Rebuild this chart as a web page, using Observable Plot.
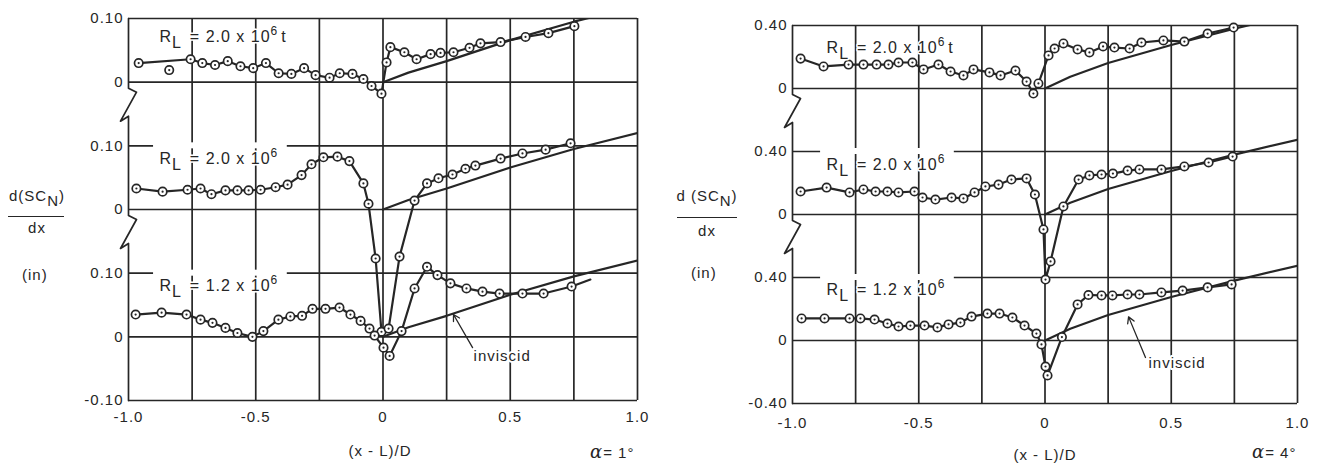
<!DOCTYPE html>
<html><head><meta charset="utf-8">
<script src="https://cdn.jsdelivr.net/npm/d3@7"></script>
<script src="https://cdn.jsdelivr.net/npm/@observablehq/plot@0.6"></script>
<style>
body{margin:0;background:#fff;}
#wrap{position:relative;width:1319px;height:471px;overflow:hidden;font-family:"Liberation Sans",Arial,sans-serif;color:#262626;background:#fff;}
.panel{position:absolute;top:0;}
.t{position:absolute;font-size:15px;letter-spacing:1px;white-space:nowrap;line-height:17px;}
.c{text-align:center;}
.fr{position:absolute;border-top:1.6px solid #262626;height:0;}
.sub{position:relative;top:5px;}
.al{font-family:"DejaVu Serif",serif;font-style:italic;font-size:18px;}
</style></head><body><div id="wrap"></div>
<script>
const ink = "#262626";
const gridX = [-1, -0.75, -0.5, -0.25, 0, 0.25, 0.5, 0.75, 1];
const xTicks = [-1, -0.5, 0, 0.5, 1];
const xTickLabels = ["-1.0", "-0.5", "0", "0.5", "1.0"];
const leftYTickLabels = ["-0.10", "0", "0.10", "0", "0.10", "0", "0.10"];
const rightYTickLabels = ["-0.40", "0", "0.40", "0", "0.40", "0", "0.40"];
const labelSub = ["L", "L", "L"];
const labelMain = ["= 2.0 x 10", "= 2.0 x 10", "= 1.2 x 10"];
const labelSup = ["6", "6", "6"];
const labelTail = ["t", "", ""];
const lTopX = [-0.96, -0.756, -0.71, -0.66, -0.61, -0.56, -0.51, -0.46, -0.41, -0.36, -0.31, -0.265, -0.21, -0.17, -0.12, -0.077, -0.045, -0.006, 0.014, 0.029, 0.084, 0.132, 0.187, 0.226, 0.277, 0.340, 0.383, 0.462, 0.560, 0.650, 0.752];
const lTopV = [0.030, 0.036, 0.030, 0.027, 0.033, 0.025, 0.022, 0.030, 0.014, 0.013, 0.022, 0.011, 0.007, 0.014, 0.013, 0.005, -0.006, -0.018, 0.031, 0.055, 0.047, 0.036, 0.044, 0.046, 0.047, 0.054, 0.061, 0.063, 0.071, 0.077, 0.088];
const lTopStrayX = [-0.84];
const lTopStrayV = [0.019];
const lMidX = [-0.969, -0.866, -0.768, -0.717, -0.674, -0.619, -0.572, -0.528, -0.481, -0.422, -0.375, -0.320, -0.281, -0.234, -0.179, -0.132, -0.077, -0.057, -0.029, -0.006, 0.022, 0.065, 0.124, 0.173, 0.218, 0.273, 0.324, 0.363, 0.462, 0.548, 0.639, 0.737];
const lMidV = [0.033, 0.028, 0.031, 0.033, 0.024, 0.030, 0.030, 0.030, 0.031, 0.035, 0.039, 0.054, 0.071, 0.082, 0.083, 0.076, 0.041, 0.009, -0.077, -0.192, -0.187, -0.074, 0.014, 0.041, 0.049, 0.055, 0.064, 0.069, 0.080, 0.088, 0.094, 0.104];
const lBotX = [-0.972, -0.870, -0.772, -0.717, -0.670, -0.619, -0.572, -0.513, -0.470, -0.411, -0.364, -0.318, -0.277, -0.226, -0.171, -0.128, -0.088, -0.053, -0.033, 0.002, 0.026, 0.073, 0.124, 0.173, 0.214, 0.265, 0.328, 0.391, 0.458, 0.548, 0.631, 0.741];
const lBotV = [0.035, 0.038, 0.035, 0.027, 0.022, 0.014, 0.006, 0.000, 0.009, 0.027, 0.032, 0.033, 0.044, 0.044, 0.046, 0.035, 0.025, 0.013, 0.002, -0.017, -0.030, 0.009, 0.076, 0.110, 0.097, 0.084, 0.076, 0.071, 0.068, 0.068, 0.068, 0.079];
const lBotTailX = [0.741, 0.815];
const lBotTailV = [0.079, 0.090];
const lInvX = [0, 0.1, 0.25, 0.5, 0.75, 1.0];
const lInvV = [0, 0.015, 0.033, 0.066, 0.095, 0.120];
const rTopX = [-0.968, -0.877, -0.778, -0.719, -0.667, -0.620, -0.580, -0.525, -0.481, -0.422, -0.374, -0.323, -0.283, -0.220, -0.176, -0.117, -0.073, -0.046, -0.026, 0.014, 0.038, 0.073, 0.129, 0.176, 0.230, 0.275, 0.335, 0.382, 0.469, 0.552, 0.644, 0.747];
const rTopV = [0.190, 0.140, 0.152, 0.152, 0.152, 0.152, 0.165, 0.165, 0.121, 0.152, 0.108, 0.083, 0.121, 0.102, 0.083, 0.114, 0.044, -0.032, 0.032, 0.210, 0.254, 0.286, 0.248, 0.229, 0.267, 0.260, 0.254, 0.292, 0.305, 0.298, 0.349, 0.387];
const rMidX = [-0.968, -0.865, -0.774, -0.719, -0.671, -0.624, -0.580, -0.517, -0.485, -0.434, -0.370, -0.323, -0.279, -0.236, -0.184, -0.133, -0.073, -0.040, -0.006, 0.002, 0.022, 0.073, 0.133, 0.176, 0.224, 0.269, 0.327, 0.374, 0.461, 0.552, 0.648, 0.743];
const rMidV = [0.146, 0.171, 0.140, 0.159, 0.146, 0.146, 0.140, 0.146, 0.108, 0.095, 0.108, 0.102, 0.140, 0.178, 0.190, 0.222, 0.229, 0.127, -0.095, -0.413, -0.298, 0.051, 0.222, 0.248, 0.254, 0.260, 0.279, 0.286, 0.286, 0.305, 0.330, 0.368];
const rBotX = [-0.964, -0.873, -0.774, -0.731, -0.675, -0.624, -0.580, -0.533, -0.477, -0.426, -0.382, -0.335, -0.291, -0.228, -0.180, -0.129, -0.081, -0.034, -0.014, 0.002, 0.010, 0.067, 0.129, 0.172, 0.224, 0.267, 0.327, 0.374, 0.461, 0.545, 0.644, 0.739];
const rBotV = [0.140, 0.140, 0.140, 0.140, 0.133, 0.108, 0.089, 0.095, 0.095, 0.083, 0.102, 0.114, 0.152, 0.171, 0.171, 0.146, 0.095, 0.044, -0.025, -0.165, -0.222, 0.022, 0.229, 0.289, 0.286, 0.286, 0.292, 0.292, 0.305, 0.317, 0.337, 0.356];
const rInvX = [0, 0.1, 0.25, 0.5, 0.75, 1.0];
const rInvV = [0, 0.075, 0.162, 0.276, 0.380, 0.475];

const zip = (xs, vs, off) => xs.map((x, i) => ({x, y: vs[i] + off}));

function panel(cfg) {
  const s = cfg.step;
  const offs = [4 * s, 2 * s, 0];
  const yTicks = d3.range(7).map(i => (i - 1) * s);
  const fw = cfg.width - cfg.ml - cfg.mr, fh = cfg.height - cfg.mt - cfg.mb;
  const ux = 2 / fw, uy = 6 * s / fh;
  const zig = [[0, 6], [8, 10], [-8, 39], [0, 34]];
  const frame = [{x: -1, y: 5 * s}];
  for (const base of [4 * s, 2 * s]) for (const [px, py] of zig) frame.push({x: -1 + px * ux, y: base - py * uy});
  frame.push({x: -1, y: -s});

  const series = cfg.series.map((ser, k) => zip(ser.x, ser.v, offs[k]));
  const allDots = series.flat().concat(cfg.stray ? zip(cfg.stray.x, cfg.stray.v, offs[0]) : []);
  const inv = offs.map(o => zip(cfg.invX, cfg.invV, o));
  const labels = offs.map((o, k) => ({x: cfg.labelX, y: o + s, k, text: "R_L " + labelMain[k] + "^" + labelSup[k] + (labelTail[k] ? " " + labelTail[k] : "")}));

  const lineStyle = {x: "x", y: "y", stroke: ink, strokeWidth: 2.2};
  const marks = [
    Plot.ruleX(gridX.slice(1), {stroke: ink, strokeWidth: 1.7}),
    Plot.ruleY(yTicks, {stroke: ink, strokeWidth: 1.7}),
    Plot.line(frame, {x: "x", y: "y", stroke: ink, strokeWidth: 1.7}),
    ...inv.map(d => Plot.line(d, {...lineStyle, clip: true})),
    ...series.map(d => Plot.line(d, lineStyle)),
  ];
  if (cfg.tail) marks.push(Plot.line(zip(cfg.tail.x, cfg.tail.v, 0), lineStyle));
  marks.push(
    Plot.dot(allDots, {x: "x", y: "y", r: 4.2, fill: "white", stroke: ink, strokeWidth: 1.7}),
    Plot.dot(allDots, {x: "x", y: "y", r: 1.1, fill: ink}),
    Plot.text(labels, {x: "x", y: "y", text: "text", textAnchor: "start", lineAnchor: "middle", fill: ink, stroke: "white", strokeWidth: 3, fontSize: 16}),
    Plot.arrow([cfg.arrow], {x1: "x1", y1: "y1", x2: "x2", y2: "y2", stroke: ink, strokeWidth: 1.3, headLength: 8}),
    Plot.text([cfg.note], {x: "x", y: "y", text: () => "inviscid", textAnchor: "start", lineAnchor: "middle", fill: ink, stroke: "white", strokeWidth: 4, fontSize: 15})
  );

  const chart = Plot.plot({
    width: cfg.width, height: cfg.height,
    marginLeft: cfg.ml, marginRight: cfg.mr, marginTop: cfg.mt, marginBottom: cfg.mb,
    x: {domain: [-1, 1], ticks: xTicks, tickFormat: d => xTickLabels[xTicks.findIndex(t => Math.abs(t - d) < 1e-9)], tickSize: 0, tickPadding: cfg.xpad, label: null},
    y: {domain: [-s, 5 * s], ticks: yTicks, tickFormat: d => cfg.yLabels[Math.round(d / s) + 1], tickSize: 0, tickPadding: 5, label: null},
    style: {fontSize: "15px", fontFamily: '"Liberation Sans", Arial, sans-serif', letterSpacing: "1px", color: ink, background: "transparent", overflow: "visible"},
    marks
  });
  chart.classList.add("panel");
  chart.style.left = cfg.left + "px";
  document.getElementById("wrap").appendChild(chart);

  // rich labels (subscript / superscript) and a knock-out gap in the row-top grid line
  const ns = "http://www.w3.org/2000/svg";
  const texts = Array.from(chart.querySelectorAll("text")).filter(t => t.textContent.startsWith("R_L"));
  const yScale = chart.scale("y");
  const xScale = chart.scale("x");
  texts.forEach((t, k) => {
    t.textContent = "";
    t.setAttribute("transform", (t.getAttribute("transform") || "") + ` translate(0,${cfg.labelDy[k]})`);
    const add = (str, attrs) => {
      const e = document.createElementNS(ns, "tspan");
      e.textContent = str;
      for (const a in attrs) e.setAttribute(a, attrs[a]);
      t.appendChild(e);
      return e;
    };
    add("R");
    add(labelSub[k], {dy: 6});
    add(" " + labelMain[k], {dy: -6, dx: 3});
    add(labelSup[k], {dy: -7, "font-size": 12});
    if (labelTail[k]) add(labelTail[k], {dy: 7, dx: 3});
    if (k > 0) {
      let w = 0;
      try { w = t.getComputedTextLength(); } catch (e) { w = 0; }
      if (!(w > 20)) w = 125;
      const x0 = xScale.apply(cfg.labelX);
      const yp = yScale.apply(offs[k] + s);
      const r = document.createElementNS(ns, "rect");
      r.setAttribute("x", x0 - 6);
      r.setAttribute("width", w + 18);
      r.setAttribute("y", yp - 3);
      r.setAttribute("height", 6);
      r.setAttribute("fill", "white");
      chart.insertBefore(r, t.parentNode);
    }
  });
}

panel({
  left: 0, width: 660, height: 471, ml: 128, mr: 23, mt: 18, mb: 71, step: 0.1, xpad: 11,
  yLabels: leftYTickLabels,
  series: [{x: lTopX, v: lTopV}, {x: lMidX, v: lMidV}, {x: lBotX, v: lBotV}],
  stray: {x: lTopStrayX, v: lTopStrayV},
  tail: {x: lBotTailX, v: lBotTailV},
  invX: lInvX, invV: lInvV,
  labelX: -0.878, labelDy: [18, 13, 13],
  arrow: {x1: 0.352, y1: -0.017, x2: 0.277, y2: 0.035},
  note: {x: 0.356, y: -0.030}
});
panel({
  left: 660, width: 659, height: 471, ml: 132, mr: 22, mt: 25, mb: 68, step: 0.4, xpad: 14,
  yLabels: rightYTickLabels,
  series: [{x: rTopX, v: rTopV}, {x: rMidX, v: rMidV}, {x: rBotX, v: rBotV}],
  invX: rInvX, invV: rInvV,
  labelX: -0.865, labelDy: [22, 13, 12],
  arrow: {x1: 0.398, y1: -0.108, x2: 0.331, y2: 0.150},
  note: {x: 0.41, y: -0.146}
});

const wrap = document.getElementById("wrap");
function addDiv(html, cls, css) {
  const d = document.createElement("div");
  d.className = cls;
  d.innerHTML = html;
  Object.assign(d.style, css);
  wrap.appendChild(d);
}
const yTitleNum = ["d(SC<span class='sub'>N</span>)", "d (SC<span class='sub'>N</span>)"];
const yTitleDen = "dx";
const yTitleUnit = "(in)";
const xTitle = "(x - L)/D";
const alphaLabels = ["1", "4"];

addDiv(yTitleNum[0], "t c", {left: "4px", top: "187px", width: "66px"});
addDiv("", "fr", {left: "8px", top: "216px", width: "56px"});
addDiv(yTitleDen, "t c", {left: "4px", top: "219px", width: "66px"});
addDiv(yTitleUnit, "t", {left: "22px", top: "266px"});
addDiv(yTitleNum[1], "t c", {left: "672px", top: "187px", width: "70px"});
addDiv("", "fr", {left: "677px", top: "217px", width: "60px"});
addDiv(yTitleDen, "t c", {left: "672px", top: "222px", width: "70px"});
addDiv(yTitleUnit, "t", {left: "691px", top: "264px"});
addDiv(xTitle, "t c", {left: "320px", top: "442px", width: "120px"});
addDiv(xTitle, "t c", {left: "985px", top: "446px", width: "120px"});
addDiv("<span class='al'>α</span>= " + alphaLabels[0] + "°", "t", {left: "590px", top: "443px"});
addDiv("<span class='al'>α</span>= " + alphaLabels[1] + "°", "t", {left: "1252px", top: "443px"});
</script>
</body></html>
